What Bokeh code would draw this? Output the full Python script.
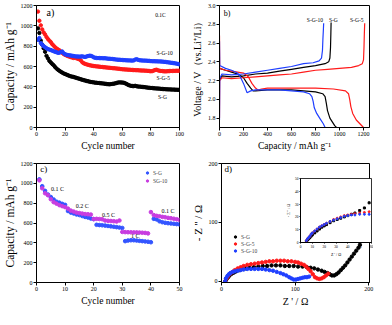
from bokeh.plotting import figure
from bokeh.layouts import column, row
from bokeh.models import Range1d, FixedTicker, Label, Legend, LegendItem, PrintfTickFormatter
from bokeh.embed import file_html
from bokeh.resources import INLINE

FONT = "Liberation Serif"
BLACK = "#000000"
RED = "#ff1a1a"
BLUE = "#1f3fff"
CBLUE = "#3355ff"
CPURPLE = "#c83ce0"

# ---------------- panel a: cycling at 0.1C ----------------
cycles_a = list(range(1, 101))
cap_sg = [975, 930, 855, 815, 780, 745, 705, 680, 655, 640,
          625, 612, 595, 580, 568, 558, 548, 540, 532, 526,
          520, 514, 508, 503, 500, 497, 492, 488, 483, 479,
          474, 470, 466, 462, 458, 455, 451, 448, 446, 444,
          441, 440, 438, 437, 435, 434, 432, 430, 428, 426,
          425, 427, 429, 431, 434, 438, 442, 444, 443, 442,
          440, 435, 428, 420, 414, 410, 408, 407, 410, 406,
          403, 402, 401, 399, 398, 396, 394, 392, 390, 389,
          388, 386, 385, 384, 383, 382, 380, 379, 378, 377,
          376, 375, 375, 374, 373, 373, 372, 371, 371, 370]
cap_sg5 = [1140, 1050, 1005, 965, 935, 915, 890, 870, 855, 840,
           820, 805, 790, 778, 768, 760, 745, 735, 722, 715,
           708, 702, 697, 692, 688, 684, 690, 680, 676, 670,
           660, 642, 632, 626, 621, 617, 613, 610, 607, 605,
           603, 601, 600, 598, 596, 595, 593, 592, 590, 589,
           587, 586, 584, 583, 582, 580, 579, 577, 575, 573,
           572, 571, 570, 569, 568, 567, 566, 565, 564, 564,
           563, 562, 561, 560, 560, 559, 558, 557, 555, 553,
           555, 560, 566, 568, 562, 558, 556, 555, 553, 552,
           553, 554, 555, 556, 556, 557, 557, 558, 558, 558]
cap_sg10 = [862, 880, 830, 815, 800, 790, 780, 772, 766, 762,
            756, 750, 745, 740, 735, 735, 742, 748, 730, 720,
            716, 712, 710, 708, 705, 703, 700, 699, 698, 697,
            698, 700, 696, 694, 698, 703, 706, 705, 700, 690,
            686, 684, 683, 683, 682, 682, 681, 681, 679, 677,
            676, 675, 674, 672, 670, 668, 667, 666, 665, 664,
            663, 662, 661, 660, 660, 659, 658, 660, 668, 672,
            666, 662, 660, 659, 658, 658, 657, 656, 655, 653,
            652, 652, 651, 651, 650, 650, 649, 648, 646, 645,
            643, 641, 639, 637, 635, 633, 631, 628, 625, 620]

# ---------------- panel b: charge / discharge profiles ----------------
sg_dis_cap = [0, 50, 100, 150, 200, 230, 260, 280, 300, 400, 500, 600, 700, 800, 860, 880, 890, 900, 920, 940, 960, 975]
sg_dis_v = [2.33, 2.31, 2.29, 2.27, 2.23, 2.17, 2.12, 2.09, 2.09, 2.10, 2.10, 2.10, 2.09, 2.08, 2.06, 2.03, 1.96, 1.88, 1.80, 1.76, 1.72, 1.70]
sg_chg_cap = [0, 20, 100, 200, 300, 400, 500, 600, 700, 800, 880, 910, 920, 925, 928, 930]
sg_chg_v = [2.20, 2.25, 2.24, 2.25, 2.27, 2.28, 2.30, 2.32, 2.34, 2.36, 2.38, 2.40, 2.44, 2.55, 2.70, 2.82]

sg5_dis_cap = [0, 2, 50, 100, 150, 200, 240, 270, 300, 320, 350, 400, 600, 800, 950, 1050, 1075, 1085, 1095, 1110, 1140, 1170, 1200]
sg5_dis_v = [2.68, 2.33, 2.31, 2.30, 2.29, 2.28, 2.24, 2.17, 2.12, 2.10, 2.11, 2.12, 2.12, 2.12, 2.11, 2.09, 2.06, 2.00, 1.92, 1.85, 1.78, 1.74, 1.70]
sg5_chg_cap = [0, 2, 20, 100, 200, 300, 400, 500, 600, 700, 800, 900, 1000, 1100, 1160, 1190, 1200, 1204, 1207, 1210]
sg5_chg_v = [1.80, 2.20, 2.23, 2.22, 2.23, 2.24, 2.25, 2.26, 2.27, 2.29, 2.31, 2.32, 2.33, 2.34, 2.36, 2.38, 2.42, 2.55, 2.70, 2.81]

sg10_dis_cap = [0, 2, 50, 100, 150, 170, 200, 230, 260, 300, 400, 500, 600, 700, 750, 770, 780, 790, 810, 840, 865, 880]
sg10_dis_v = [2.62, 2.36, 2.33, 2.31, 2.28, 2.25, 2.17, 2.07, 2.09, 2.10, 2.10, 2.10, 2.09, 2.08, 2.06, 2.03, 1.98, 1.91, 1.85, 1.79, 1.74, 1.70]
sg10_chg_cap = [0, 2, 20, 100, 200, 300, 400, 500, 600, 700, 780, 830, 850, 858, 862, 866, 868]
sg10_chg_v = [1.78, 2.22, 2.27, 2.26, 2.27, 2.29, 2.31, 2.33, 2.35, 2.38, 2.39, 2.41, 2.44, 2.52, 2.65, 2.75, 2.81]

# ---------------- panel c: rate capability ----------------
cycles_c = list(range(1, 51))
rate_sg = [1040, 971, 924, 887, 862, 837, 815, 805, 793, 783,
           721, 705, 696, 686, 680, 670, 661, 655, 645, 639,
           582, 579, 577, 574, 570, 566, 562, 558, 554, 550,
           417, 423, 426, 426, 423, 420, 417, 414, 411, 406,
           642, 636, 617, 608, 602, 598, 595, 592, 589, 586]
rate_sg10 = [1030, 950, 900, 880, 840, 810, 795, 780, 770, 760,
             745, 725, 715, 705, 700, 695, 690, 688, 685, 640,
             642, 640, 638, 625, 622, 620, 618, 615, 625, 510,
             508, 507, 506, 505, 505, 504, 502, 500, 495, 710,
             680, 672, 668, 662, 658, 652, 648, 643, 638, 632]

# ---------------- panel d: Nyquist plots ----------------
zr_sg = [5, 7, 9, 11, 14, 17, 20, 24, 28, 33, 38, 44, 50, 56, 62, 68, 74, 80, 86, 92,
         98, 104, 110, 116, 121, 126, 131, 136, 140, 144, 147, 150, 153, 156, 159, 162, 165, 168, 171, 174,
         177, 180, 183, 186, 188]
zi_sg = [0, 4, 7, 10, 13, 15, 17, 19, 21, 22, 23, 24, 25, 26, 26, 27, 27, 27, 26, 26,
         26, 25, 25, 24, 23, 22, 20, 18, 16, 14, 12, 10, 10, 12, 15, 19, 23, 27, 32, 37,
         42, 47, 52, 57, 62]
zr_sg5 = [5, 7, 9, 12, 15, 18, 22, 26, 30, 35, 40, 45, 50, 55, 60, 65, 70, 75, 80, 85,
          90, 95, 100, 104, 108, 112, 115, 118, 121, 124, 127, 130, 133, 136, 139, 142, 145]
zi_sg5 = [0, 5, 9, 13, 16, 19, 22, 24, 26, 28, 29, 30, 31, 32, 33, 34, 34, 35, 35, 35,
          34, 34, 33, 32, 30, 28, 25, 21, 17, 12, 7, 5, 4, 5, 7, 10, 13]
zr_sg10 = [5, 6, 8, 10, 12, 15, 18, 22, 26, 30, 35, 40, 45, 50, 55, 60, 65, 70, 75, 80,
           84, 88, 92, 95, 98, 101, 104, 107, 110, 113, 116, 119]
zi_sg10 = [0, 5, 9, 12, 14, 16, 17, 18, 19, 20, 21, 21, 21, 21, 21, 20, 19, 18, 16, 14,
           12, 10, 7, 5, 3, 3, 4, 5, 6, 7, 7, 8]

# inset (high-frequency region)
in_zr = [5, 6, 7, 8, 9, 10, 12, 14, 16, 18, 20, 22, 25, 28, 31, 34, 37, 40, 43, 46, 50, 54, 58]
in_zi_sg = [1, 2, 3, 4, 5, 6, 7.5, 9, 10.5, 12, 13, 14, 15.5, 17, 18, 19, 20, 21, 22, 23, 25, 27, 31]
in_zi_sg5 = [1.5, 3, 4, 5, 6.5, 7.5, 9, 10.5, 12, 13, 14, 15, 16.5, 18, 19, 20, 21, 21.5, 22, 22.5, 23, 23.5, 24]
in_zi_sg10 = [1.5, 3, 4, 5, 6.5, 7.5, 9, 10.5, 12, 13, 14, 15, 16.5, 17.5, 18.5, 19.5, 20.5, 21, 21.5, 21.5, 22, 22, 22]

# tick values
ticks_a_x = [0, 20, 40, 60, 80, 100]
ticks_cap_y = [0, 200, 400, 600, 800, 1000, 1200]
ticks_b_x = [0, 200, 400, 600, 800, 1000, 1200]
ticks_b_y = [1.8, 2.0, 2.2, 2.4, 2.6, 2.8, 3.0]
ticks_c_x = [0, 10, 20, 30, 40, 50]
ticks_d = [0, 100, 200]
ticks_in_x = [0, 10, 20, 30, 40, 50, 60]
ticks_in_y = [0, 10, 20, 30, 40, 50]

YLAB_CAP = "Capacity / mAh g\u207b\u00b9"


def make_fig(w, h, xr, yr, left, right, top, bottom):
    p = figure(width=w, height=h, x_range=Range1d(*xr), y_range=Range1d(*yr),
               output_backend="svg", toolbar_location=None,
               min_border_left=left, min_border_right=right,
               min_border_top=top, min_border_bottom=bottom)
    p.grid.visible = False
    p.outline_line_color = "black"
    p.outline_line_width = 1
    p.outline_line_alpha = 1
    p.background_fill_color = "white"
    p.border_fill_color = "white"
    return p


def style_axes(p, xt, yt, xlabel, ylabel, tick_size="6px", xl_size="9.5px", yl_size="11.5px",
               tick_out=3, lab_st=1, ax_st=2):
    p.xaxis.ticker = FixedTicker(ticks=xt)
    p.yaxis.ticker = FixedTicker(ticks=yt)
    p.xaxis.axis_label = xlabel
    p.yaxis.axis_label = ylabel
    for ax in (p.xaxis[0], p.yaxis[0]):
        ax.axis_line_color = "black"
        ax.axis_line_width = 1
        ax.major_tick_line_color = "black"
        ax.major_tick_out = tick_out
        ax.major_tick_in = 0
        ax.minor_tick_line_color = None
        ax.major_label_text_font = FONT
        ax.major_label_text_font_size = tick_size
        ax.major_label_text_color = "black"
        ax.major_label_standoff = lab_st
        ax.axis_label_text_font = FONT
        ax.axis_label_text_font_style = "normal"
        ax.axis_label_text_color = "black"
        ax.axis_label_standoff = ax_st
    p.xaxis.axis_label_text_font_size = xl_size
    p.yaxis.axis_label_text_font_size = yl_size


def add_label(p, x, y, text, size):
    p.add_layout(Label(x=x, y=y, text=text, text_font=FONT, text_font_size=size,
                       text_baseline="middle", text_align="left", text_color="black"))


# ---------- a ----------
pa = make_fig(188, 153, (0, 100), (0, 1200), 29, 9, 5, 26)
style_axes(pa, ticks_a_x, ticks_cap_y, "Cycle number", YLAB_CAP)
pa.scatter(cycles_a, cap_sg, size=3.4, color=BLACK, marker="circle")
pa.scatter(cycles_a, cap_sg5, size=3.4, color=RED, marker="circle")
pa.scatter(cycles_a, cap_sg10, size=3.4, color=BLUE, marker="circle")
add_label(pa, 7, 1130, "a)", "10px")
add_label(pa, 83, 1106, "0.1C", "5.5px")
add_label(pa, 84, 730, "S-G-10", "5.5px")
add_label(pa, 84, 482, "S-G-5", "5.5px")
add_label(pa, 85, 301, "S-G", "5.5px")

# ---------- b ----------
pb = make_fig(188, 153, (0, 1250), (1.7, 3.0), 31, 7, 5, 26)
style_axes(pb, ticks_b_x, ticks_b_y, YLAB_CAP, "Voltage / V\uff08vs.Li\u207a/Li\uff09",
           yl_size="10px")
pb.yaxis.formatter = PrintfTickFormatter(format="%.1f")
for xs, ys, c in ((sg_dis_cap, sg_dis_v, BLACK), (sg_chg_cap, sg_chg_v, BLACK),
                  (sg5_dis_cap, sg5_dis_v, RED), (sg5_chg_cap, sg5_chg_v, RED),
                  (sg10_dis_cap, sg10_dis_v, BLUE), (sg10_chg_cap, sg10_chg_v, BLUE)):
    pb.line(xs, ys, line_color=c, line_width=1.2)
add_label(pb, 35, 2.915, "b)", "8px")
add_label(pb, 728, 2.85, "S-G-10", "5.5px")
add_label(pb, 912, 2.85, "S-G", "5.5px")
add_label(pb, 1088, 2.85, "S-G-5", "5.5px")

# ---------- c ----------
pc = make_fig(188, 156, (0, 50), (0, 1200), 30, 9, 10, 24)
style_axes(pc, ticks_c_x, ticks_cap_y, "Cycle number", YLAB_CAP)
r1 = pc.scatter(cycles_c, rate_sg, size=3.6, color=CBLUE, marker="circle")
r2 = pc.scatter(cycles_c, rate_sg10, size=3.6, color=CPURPLE, marker="circle")
leg_c = Legend(items=[LegendItem(label="S-G", renderers=[r1]),
                      LegendItem(label="SG-10", renderers=[r2])],
               location="top_right", margin=6, padding=2, spacing=1,
               glyph_width=6, glyph_height=7, label_height=7, label_standoff=3,
               label_text_font=FONT, label_text_font_size="5.5px",
               border_line_color=None, background_fill_alpha=0)
pc.add_layout(leg_c)
add_label(pc, 1.3, 1140, "c)", "9px")
add_label(pc, 5.1, 946, "0.1 C", "6px")
add_label(pc, 13.7, 768, "0.2 C", "6px")
add_label(pc, 22.9, 680, "0.5 C", "6px")
add_label(pc, 33, 470, "1 C", "6px")
add_label(pc, 43.7, 720, "0.1 C", "6px")

# ---------- d ----------
pd_ = make_fig(188, 156, (0, 201), (-2, 200), 31, 7, 10, 24)
style_axes(pd_, ticks_d, ticks_d, "Z ' / \u03a9", "- Z '' / \u03a9", xl_size="10px", yl_size="11px")
d1 = pd_.scatter(zr_sg, zi_sg, size=3.4, color=BLACK, marker="circle")
d2 = pd_.scatter(zr_sg5, zi_sg5, size=3.4, color=RED, marker="circle")
d3 = pd_.scatter(zr_sg10, zi_sg10, size=3.4, color=BLUE, marker="circle")
leg_d = Legend(items=[LegendItem(label="S-G", renderers=[d1]),
                      LegendItem(label="S-G-5", renderers=[d2]),
                      LegendItem(label="S-G-10", renderers=[d3])],
               location=(11, 28), margin=0, padding=1, spacing=0,
               glyph_width=6, glyph_height=7, label_height=7, label_standoff=3,
               label_text_font=FONT, label_text_font_size="5.5px",
               border_line_color=None, background_fill_alpha=0)
pd_.add_layout(leg_d)
add_label(pd_, 4, 190, "d)", "9px")

# ---------- inset ----------
inset = figure(frame_width=71, frame_height=64, x_range=Range1d(0, 60), y_range=Range1d(0, 50),
               output_backend="svg", toolbar_location=None,
               min_border_left=16, min_border_right=2, min_border_top=2, min_border_bottom=15)
inset.grid.visible = False
inset.outline_line_color = "black"
inset.outline_line_width = 0.8
inset.background_fill_color = "white"
inset.border_fill_alpha = 0
style_axes(inset, ticks_in_x, ticks_in_y, "Z ' / \u03a9", "- Z '' / \u03a9",
           tick_size="3.5px", xl_size="4px", yl_size="4px", tick_out=1, lab_st=1, ax_st=1)
inset.scatter(in_zr, in_zi_sg, size=2, color=BLACK, marker="square")
inset.scatter(in_zr, in_zi_sg5, size=2, color=RED, marker="circle")
inset.scatter(in_zr, in_zi_sg10, size=2, color=BLUE, marker="circle")
inset.styles = {"position": "absolute", "left": "282px", "top": "176px"}

layout = column(row(pa, pb), row(pc, pd_), inset)

open("out.html", "w").write(file_html(layout, INLINE))
